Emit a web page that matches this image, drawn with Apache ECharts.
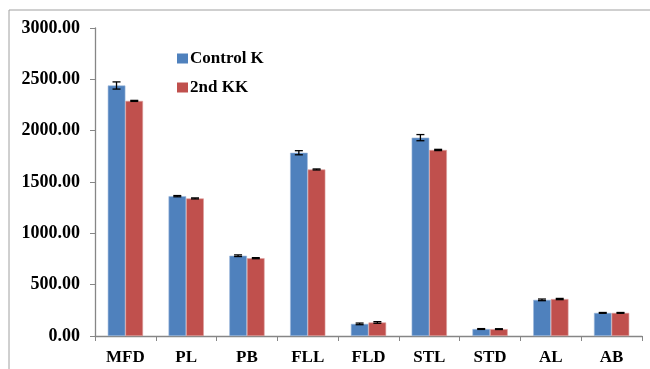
<!DOCTYPE html>
<html><head><meta charset="utf-8">
<script src="https://cdn.jsdelivr.net/npm/echarts@6/dist/echarts.min.js"></script>
<style>html,body{margin:0;padding:0;background:#fff}#c{width:650px;height:369px}</style>
</head><body><div id="c"></div>
<script>
var categories = ['MFD','PL','PB','FLL','FLD','STL','STD','AL','AB'];
var controlK = [2440, 1362, 782, 1785, 118, 1932, 68, 352, 225];
var controlKErr = [35, 6, 8, 20, 8, 30, 4, 8, 4];
var kk2 = [2290, 1340, 758, 1622, 132, 1812, 67, 360, 225];
var kk2Err = [5, 5, 5, 5, 8, 6, 4, 6, 4];
var yTicks = [0, 500, 1000, 1500, 2000, 2500, 3000];

var chart = echarts.init(document.getElementById('c'));
var font = 'Liberation Serif';
function errSeries(vals, errs, side){
  return {
    type:'custom', z:10,
    data: vals.map(function(v,i){return [i, v, errs[i]];}),
    renderItem: function(params, api){
      var i = api.value(0), v = api.value(1), e = api.value(2);
      var w = api.size([1,0])[0];
      var off = side * w * 0.146;
      var top = api.coord([i, v + e]), bot = api.coord([i, v - e]);
      var x = top[0] + off;
      var cap = 4;
      var st = {stroke:'#000', lineWidth:1.3};
      return {type:'group', children:[
        {type:'line', shape:{x1:x, y1:top[1], x2:x, y2:bot[1]}, style:st},
        {type:'line', shape:{x1:x-cap, y1:top[1], x2:x+cap, y2:top[1]}, style:st},
        {type:'line', shape:{x1:x-cap, y1:bot[1], x2:x+cap, y2:bot[1]}, style:st}
      ]};
    },
    silent:true
  };
}
chart.setOption({
  animation:false,
  grid:{left:95, right:8, top:28, bottom:33},
  graphic:[{type:'rect', shape:{x:9, y:10, width:700, height:400}, style:{fill:'none', stroke:'#a0a0a0', lineWidth:1}, silent:true}],
  legend:{
    orient:'vertical', left:172, top:45, itemGap:12, itemWidth:11, itemHeight:10,
    icon:'rect', itemStyle:{borderWidth:0},
    textStyle:{fontFamily:font, fontWeight:'bold', fontSize:17, color:'#000', padding:[0,0,0,-3]},
    data:['Control K','2nd KK']
  },
  xAxis:{
    type:'category', data:categories,
    axisLine:{lineStyle:{color:'#868686', width:1.3}},
    axisTick:{show:true, length:5, lineStyle:{color:'#868686'}},
    axisLabel:{fontFamily:font, fontWeight:'bold', fontSize:17, color:'#000', margin:13}
  },
  yAxis:{
    type:'value', min:yTicks[0], max:yTicks[yTicks.length-1], interval:500,
    axisLine:{show:true, lineStyle:{color:'#868686', width:1.3}},
    axisTick:{show:true, length:5, lineStyle:{color:'#868686'}},
    splitLine:{show:false},
    axisLabel:{fontFamily:font, fontWeight:'bold', fontSize:18, color:'#000', margin:15,
      formatter:function(v){return v.toFixed(2);}}
  },
  series:[
    {name:'Control K', type:'bar', data:controlK, barWidth:'29%', barGap:'0%',
      itemStyle:{color:'#4F81BD', borderColor:'#9DB9DC', borderWidth:0.6}},
    {name:'2nd KK', type:'bar', data:kk2, barWidth:'29%', barGap:'0%',
      itemStyle:{color:'#C0504D', borderColor:'#DCA09E', borderWidth:0.6}},
    errSeries(controlK, controlKErr, -1),
    errSeries(kk2, kk2Err, 1)
  ]
});
</script></body></html>
